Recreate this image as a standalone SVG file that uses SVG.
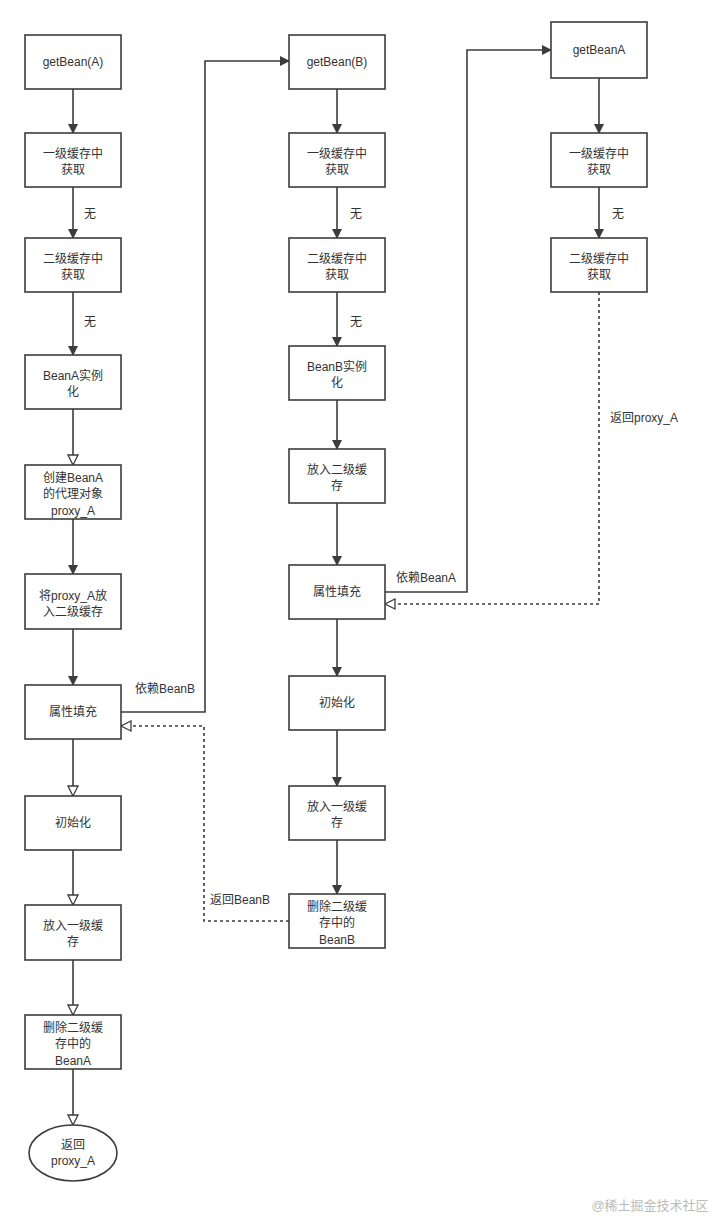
<svg xmlns="http://www.w3.org/2000/svg" width="723" height="1221" viewBox="0 0 723 1221">
<style>
.n{fill:#fff;stroke:#3c3c3c;stroke-width:1.6}
text{font-family:"Liberation Sans","Noto Sans CJK SC",sans-serif;font-size:12px;fill:#333;text-anchor:middle}
.l{text-anchor:start}
.c{fill:none;stroke:#3c3c3c;stroke-width:1.6}
.d{stroke-dasharray:3,3}
</style>
<defs>
<marker id="f" markerWidth="10" markerHeight="10" refX="9" refY="5" orient="auto" markerUnits="userSpaceOnUse"><path d="M0,0L10,5L0,10z" fill="#3c3c3c"/></marker>
<marker id="o" markerWidth="12" markerHeight="12" refX="11" refY="6" orient="auto" markerUnits="userSpaceOnUse"><path d="M1,1L11,6L1,11z" fill="#fff" stroke="#3c3c3c" stroke-width="1.3"/></marker>
</defs>
<rect width="723" height="1221" fill="#fff"/>
<g id="connectors">
<path class="c" marker-end="url(#f)" d="M73,89V133"/>
<path class="c" marker-end="url(#f)" d="M73,187V238"/>
<path class="c" marker-end="url(#f)" d="M73,292V355"/>
<path class="c" marker-end="url(#o)" d="M73,409V465"/>
<path class="c" marker-end="url(#f)" d="M73,519V574"/>
<path class="c" marker-end="url(#f)" d="M73,629V685"/>
<path class="c" marker-end="url(#o)" d="M73,739V796"/>
<path class="c" marker-end="url(#o)" d="M73,850V905"/>
<path class="c" marker-end="url(#o)" d="M73,960V1015"/>
<path class="c" marker-end="url(#o)" d="M73,1069V1125"/>
<path class="c" marker-end="url(#f)" d="M337,89V133"/>
<path class="c" marker-end="url(#f)" d="M337,187V238"/>
<path class="c" marker-end="url(#f)" d="M337,292V346"/>
<path class="c" marker-end="url(#f)" d="M337,400V449"/>
<path class="c" marker-end="url(#f)" d="M337,503V565"/>
<path class="c" marker-end="url(#f)" d="M337,619V676"/>
<path class="c" marker-end="url(#f)" d="M337,730V786"/>
<path class="c" marker-end="url(#f)" d="M337,840V894"/>
<path class="c" marker-end="url(#f)" d="M599,78V133"/>
<path class="c" marker-end="url(#f)" d="M599,187V238"/>
<path class="c" marker-end="url(#f)" d="M121,712H205V61H289"/>
<path class="c d" marker-end="url(#o)" d="M289,921H204V726H121"/>
<path class="c" marker-end="url(#f)" d="M385,592H467V50H551"/>
<path class="c d" marker-end="url(#o)" d="M599,292V604H385"/>
<text class="l" x="84" y="218">无</text>
<text class="l" x="84" y="326">无</text>
<text class="l" x="350" y="218">无</text>
<text class="l" x="350" y="326">无</text>
<text class="l" x="612" y="218">无</text>
<text class="l" x="135" y="693">依赖BeanB</text>
<text class="l" x="210" y="904">返回BeanB</text>
<text class="l" x="396" y="582">依赖BeanA</text>
<text class="l" x="610" y="422">返回proxy_A</text>
</g>
<g id="a1"><rect class="n" x="25" y="35" width="96" height="54"/><text x="73" y="66">getBean(A)</text></g>
<g id="a2"><rect class="n" x="25" y="133" width="96" height="54"/><text x="73" y="158">一级缓存中</text><text x="73" y="174">获取</text></g>
<g id="a3"><rect class="n" x="25" y="238" width="96" height="54"/><text x="73" y="263">二级缓存中</text><text x="73" y="279">获取</text></g>
<g id="a4"><rect class="n" x="25" y="355" width="96" height="54"/><text x="73" y="380">BeanA实例</text><text x="73" y="396">化</text></g>
<g id="a5"><rect class="n" x="25" y="465" width="96" height="54"/><text x="73" y="482">创建BeanA</text><text x="73" y="498">的代理对象</text><text x="73" y="515">proxy_A</text></g>
<g id="a6"><rect class="n" x="25" y="574" width="96" height="55"/><text x="73" y="600">将proxy_A放</text><text x="73" y="616">入二级缓存</text></g>
<g id="a7"><rect class="n" x="25" y="685" width="96" height="54"/><text x="73" y="716">属性填充</text></g>
<g id="a8"><rect class="n" x="25" y="796" width="96" height="54"/><text x="73" y="827">初始化</text></g>
<g id="a9"><rect class="n" x="25" y="905" width="96" height="55"/><text x="73" y="930">放入一级缓</text><text x="73" y="946">存</text></g>
<g id="a10"><rect class="n" x="25" y="1015" width="96" height="54"/><text x="73" y="1032">删除二级缓</text><text x="73" y="1048">存中的</text><text x="73" y="1065">BeanA</text></g>
<g id="a11"><ellipse class="n" cx="73" cy="1153" rx="44" ry="28"/><text x="73" y="1149">返回</text><text x="73" y="1165">proxy_A</text></g>
<g id="b1"><rect class="n" x="289" y="35" width="96" height="54"/><text x="337" y="66">getBean(B)</text></g>
<g id="b2"><rect class="n" x="289" y="133" width="96" height="54"/><text x="337" y="158">一级缓存中</text><text x="337" y="174">获取</text></g>
<g id="b3"><rect class="n" x="289" y="238" width="96" height="54"/><text x="337" y="263">二级缓存中</text><text x="337" y="279">获取</text></g>
<g id="b4"><rect class="n" x="289" y="346" width="96" height="54"/><text x="337" y="371">BeanB实例</text><text x="337" y="387">化</text></g>
<g id="b5"><rect class="n" x="289" y="449" width="96" height="54"/><text x="337" y="474">放入二级缓</text><text x="337" y="490">存</text></g>
<g id="b6"><rect class="n" x="289" y="565" width="96" height="54"/><text x="337" y="596">属性填充</text></g>
<g id="b7"><rect class="n" x="289" y="676" width="96" height="54"/><text x="337" y="707">初始化</text></g>
<g id="b8"><rect class="n" x="289" y="786" width="96" height="54"/><text x="337" y="811">放入一级缓</text><text x="337" y="827">存</text></g>
<g id="b9"><rect class="n" x="289" y="894" width="96" height="54"/><text x="337" y="911">删除二级缓</text><text x="337" y="927">存中的</text><text x="337" y="944">BeanB</text></g>
<g id="c1"><rect class="n" x="551" y="22" width="96" height="56"/><text x="599" y="54">getBeanA</text></g>
<g id="c2"><rect class="n" x="551" y="133" width="96" height="54"/><text x="599" y="158">一级缓存中</text><text x="599" y="174">获取</text></g>
<g id="c3"><rect class="n" x="551" y="238" width="96" height="54"/><text x="599" y="263">二级缓存中</text><text x="599" y="279">获取</text></g>
<text x="650" y="1210" style="fill:#bbb;font-size:13px">@稀土掘金技术社区</text>
</svg>
